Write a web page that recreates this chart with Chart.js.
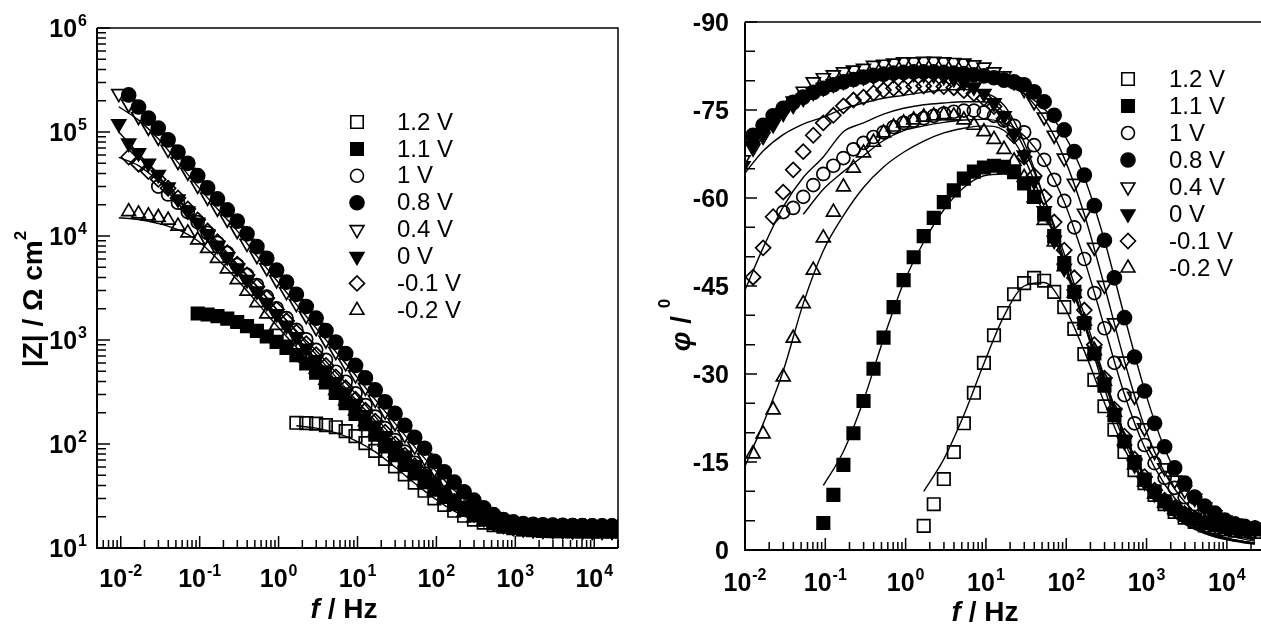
<!DOCTYPE html>
<html>
<head>
<meta charset="utf-8">
<title>Bode plots</title>
<script src="https://cdn.jsdelivr.net/npm/chart.js@4.4.1/dist/chart.umd.min.js"></script>
<style>
  html, body { margin: 0; padding: 0; background: #fff; overflow: hidden; }
  body { width: 1261px; height: 625px; position: relative; }
  #modulus { position: absolute; left: 0; top: 0; }
  #phase { position: absolute; left: 630px; top: 0; }
</style>
</head>
<body>
<canvas id="modulus" width="630" height="625" style="width:630px;height:625px"></canvas>
<canvas id="phase" width="680" height="625" style="width:680px;height:625px"></canvas>
<script>
const _ = null;

// measured frequencies, Hz (8 points per decade)
const freq = [0.00944, 0.0126, 0.0168, 0.0224, 0.0299, 0.0398, 0.0531, 0.0708,
  0.0944, 0.126, 0.168, 0.224, 0.299, 0.398, 0.531, 0.708,
  0.944, 1.26, 1.68, 2.24, 2.99, 3.98, 5.31, 7.08,
  9.44, 12.6, 16.8, 22.4, 29.9, 39.8, 53.1, 70.8,
  94.4, 126, 168, 224, 299, 398, 531, 708,
  944, 1259, 1679, 2239, 2985, 3981, 5309, 7079,
  9441, 12589, 16788, 22387];

// frequencies of the fitted curves
const fitFreq = [0.00944, 0.0168, 0.0299, 0.0531, 0.0944, 0.168, 0.299, 0.531, 0.944,
  1.68, 2.99, 5.31, 9.44, 16.8, 29.9, 53.1, 94.4, 168, 299, 531, 944,
  1679, 2985, 5309, 9441, 16788, 22387];

const potentials = ['1.2 V', '1.1 V', '1 V', '0.8 V', '0.4 V', '0 V', '-0.1 V', '-0.2 V'];

// |Z| / Ohm cm2, measured
const mag12 = [_, _, _, _, _, _, _, _, _, _, _, _, _, _, _, _, _, _,
  160, 159, 157, 152, 145, 133, 119, 102, 86, 72, 61, 51, 42.5, 35.5, 30, 26,
  22.8, 20.4, 18.7, 17.5, 16.6, 16, 15.5, 15.2, 15.0, 14.85, 14.75, 14.7, 14.6, 14.6,
  14.5, 14.5, 14.5, 14.5];
const mag11 = [_, _, _, _, _, _, _, _,
  1800, 1758, 1694, 1603, 1489, 1361, 1225, 1081, 960, 840, 715, 595, 485, 390, 310, 247,
  195, 155, 123, 98, 78, 63, 52, 43, 36.3, 30.9, 26.6, 23.2, 20.7, 18.8, 17.4, 16.4,
  15.7, 15.1, 14.8, 14.6, 14.5, 14.5, 14.4, 14.4, 14.4, 14.4, 14.4, 14.4];
const mag10 = [_, _, _, _,
  29900, 25100, 20900, 17000, 13600, 10700, 8570, 6870, 5260, 4220, 3380, 2610,
  2020, 1620, 1250, 1016, 802, 643, 495, 397, 307, 237, 183, 142, 109, 84.3, 66, 52.2,
  41.9, 33.6, 27.9, 24.1, 21.5, 19.7, 18.6, 17.9, 17.4, 17.1, 16.9, 16.8, 16.7, 16.6,
  16.6, 16.5, 16.5, 16.5, 16.4, 16.4];
const mag08 = [_,
  227000, 174000, 136000, 109000, 84000, 64000, 50000, 38000, 29000, 22700, 17800,
  13900, 10500, 7900, 6100, 4700, 3600, 2750, 2100, 1620, 1230, 955, 741, 569, 432,
  331, 254, 197, 151, 116, 91, 68, 54, 43, 34.7, 28.8, 24.3, 20.9, 18.8, 17.8, 17.2,
  16.9, 16.7, 16.6, 16.5, 16.4, 16.4, 16.3, 16.3, 16.3, 16.3];
const mag04 = [234000, 185000, 141000, 111000, 89000, 68000, 52000, 41000, 30700,
  23600, 18500, 14500, 11300, 8500, 6500, 4950, 3800, 2920, 2240, 1720, 1320, 1000,
  776, 603, 462, 351, 269, 207, 160, 123, 95.5, 74, 57.5, 45, 36.3, 29.9, 25.4, 21.9,
  19.5, 17.8, 16.8, 16.2, 15.8, 15.6, 15.5, 15.4, 15.4, 15.3, 15.3, 15.3, 15.3, 15.2];
const mag00 = [120000, 78000, 63000, 50000, 39000, 29500, 22600, 17400, 13500, 10500,
  8130, 6310, 4900, 3800, 2950, 2290, 1780, 1380, 1070, 832, 646, 501, 394, 309, 243,
  191, 151, 120, 96.6, 77.6, 63, 51.3, 42.2, 35.1, 29.5, 25.4, 22.1, 19.7, 18.0, 16.8,
  15.8, 15.3, 15.0, 14.8, 14.7, 14.6, 14.6, 14.5, 14.5, 14.5, 14.5, 14.5];
const magM01 = [_,
  57500, 49000, 41700, 35000, 28800, 23200, 18200, 14300, 11200, 8810, 6920, 5370,
  4220, 3270, 2540, 1970, 1530, 1190, 923, 724, 569, 442, 347, 269, 211, 166, 130, 100,
  78, 62, 50, 40.5, 33.5, 28, 24, 21, 18.9, 17.3, 16.3, 15.6, 15.2, 14.95, 14.8, 14.7,
  14.6, 14.6, 14.5, 14.5, 14.5, 14.5, 14.5];
const magM02 = [_,
  17140, 16330, 15600, 15070, 14190, 12450, 10720, 9160, 7590, 6100, 4840, 3800,
  2950, 2290, 1780, 1380, 1085, 851, 668, 525, 412, 327, 260, 207, 164, 130, 104, 82,
  66, 53, 43.2, 35.5, 29.9, 25.4, 22.1, 19.7, 18.0, 16.8, 16.0, 15.5, 15.1, 14.8, 14.6,
  14.5, 14.4, 14.4, 14.3, 14.3, 14.3, 14.3, 14.3];

// phase / deg, measured
const ph12 = [_, _, _, _, _, _, _, _, _, _, _, _, _, _, _, _, _, _,
  -4.1, -7.8, -12.1, -16.7, -21.6, -26.8, -31.9, -36.6, -40.4, -43.6, -45.5, -46.4,
  -45.9, -44.0, -41.4, -37.7, -33.4, -29.0, -24.5, -20.5, -16.7, -13.6, -11.4, -9.4,
  -7.8, -6.5, -5.5, -4.8, -4.2, -3.8, -3.5, -3.3, -3.2, -3.1];
const ph11 = [_, _, _, _, _, _, _, _,
  -4.6, -9.4, -14.5, -19.9, -25.4, -30.9, -36.2, -41.4, -46.0, -49.9, -53.5, -56.6,
  -59.3, -61.3, -63.3, -64.5, -65.2, -65.5, -65.3, -64.4, -62.5, -60.2, -57.2, -53.5,
  -48.9, -44.0, -38.7, -33.5, -28, -23, -18.5, -15, -12, -10, -8.3, -7, -6, -5.2,
  -4.6, -4.2, -3.9, -3.7, -3.6, -3.5];
const ph10 = [_, _, _, _,
  -57.6, -58.3, -60.2, -62.2, -64.1, -65.5, -66.8, -68.3, -69.4, -70.4, -71.2, -72.1,
  -72.8, -73.2, -73.6, -74.0, -74.4, -74.7, -74.9, -74.9, -74.6, -74.0, -73.2, -72.3,
  -71.2, -69.0, -66.5, -63.1, -59.5, -55.0, -49.6, -43.8, -37.8, -31.9, -26.4, -21.6,
  -17.9, -14.8, -12.3, -10.6, -9.0, -7.8, -6.6, -5.7, -5.0, -4.5, -4.1, -3.8];
const ph08 = [_,
  -70.7, -72.4, -74.0, -75.3, -76.3, -77.2, -78.0, -78.7, -79.3, -79.8, -80.2, -80.6,
  -80.9, -81.1, -81.3, -81.4, -81.5, -81.5, -81.5, -81.4, -81.3, -81.2, -81.0, -80.8,
  -80.5, -80.1, -79.8, -79.3, -78.1, -76.4, -74.1, -71.6, -67.9, -63.9, -58.7, -52.8,
  -46.4, -39.6, -32.9, -27.1, -21.6, -17.6, -14.0, -11.4, -9.0, -7.5, -6.3, -5.1,
  -4.4, -3.9, -3.7];
const ph04 = [-66.5, -68.5, -70.5, -72.5, -74.5, -76.5, -78.2, -79.8, -80.5, -81.0,
  -81.5, -81.8, -82.1, -82.6, -82.8, -83.0, -83.2, -83.2, -83.3, -83.3, -83.2, -83.1,
  -83.0, -82.7, -82.3, -81.5, -80.8, -79.8, -78.5, -76.4, -73.8, -70.7, -66.8, -62.5,
  -57.4, -51.6, -45.1, -38.7, -32.2, -26.2, -20.8, -16.8, -14.0, -11.9, -10.2, -8.8,
  -7.3, -6.0, -5.1, -4.6, -3.9, -3.6];
const ph00 = [-65.5, -69.0, -71.0, -72.8, -74.5, -75.8, -77.0, -78.0, -78.8, -79.4,
  -79.9, -80.3, -80.6, -80.8, -81.0, -81.1, -81.2, -81.2, -81.1, -81.0, -80.7, -80.3,
  -79.7, -78.9, -77.8, -76.2, -74.0, -71.0, -67.3, -62.9, -57.8, -52.8, -48.0, -43.6,
  -38.8, -33.8, -28.6, -23.4, -18.5, -14.5, -11.6, -9.6, -8.1, -6.9, -6.0, -5.4,
  -4.9, -4.4, -4.0, -3.8, -3.6, -3.5];
const phM01 = [_,
  -46.5, -51.5, -56.8, -61.0, -64.8, -67.9, -70.7, -72.8, -74.1, -75.7, -76.7, -77.2,
  -77.9, -78.4, -78.7, -78.8, -79.0, -79.1, -79.1, -79.0, -78.8, -78.3, -77.8, -77.0,
  -75.6, -73.5, -70.6, -67.0, -63.8, -60.2, -55.9, -51.1, -46.4, -40.9, -35.0, -29.3,
  -24.0, -19.4, -15.5, -12.5, -10.2, -8.5, -7.2, -6.2, -5.4, -4.8, -4.4, -4.1,
  -3.9, -3.7, -3.6];
const phM02 = [_,
  -16.4, -19.8, -23.9, -29.5, -36.1, -42.0, -47.7, -53.2, -57.6, -61.9, -65.1, -67.7,
  -69.5, -71.1, -72.1, -72.8, -73.3, -73.8, -74.0, -74.2, -74.0, -73.3, -72.4, -71.3,
  -70.0, -68.3, -66.3, -63.5, -60.0, -56.2, -52.5, -48.3, -43.8, -39.0, -34.0, -28.8,
  -23.5, -18.6, -14.5, -11.6, -9.5, -8.0, -6.9, -6.0, -5.3, -4.8, -4.3, -4.0,
  -3.8, -3.6, -3.5];

// fitted |Z|
const fitMag12 = [_, _, _, _, _, _, _, _, _, 150, 142, 128, 108, 84, 60, 42, 30, 22.6,
  18.6, 16.6, 15.5, 15.0, 14.7, 14.6, 14.5, 14.5, 14.5];
const fitMag11 = [_, _, _, _, 1720, 1650, 1470, 1220, 950, 720, 490, 315, 198, 124, 79,
  52, 36, 26.4, 20.5, 17.2, 15.6, 14.9, 14.6, 14.5, 14.4, 14.4, 14.4];
const fitMag10 = [_, _, _, 20500, 13400, 8400, 5150, 3300, 1980, 1230, 790, 490, 305,
  183, 109, 66, 42, 28, 21.5, 18.5, 17.2, 16.7, 16.5, 16.4, 16.3, 16.3, 16.3];
const fitMag08 = [_, 170000, 106000, 63000, 37500, 22300, 13600, 7800, 4600, 2700, 1600,
  940, 560, 326, 194, 114, 67, 42, 28.5, 20.8, 17.6, 16.7, 16.4, 16.3, 16.3, 16.3, 16.3];
const fitMag04 = [175000, 130000, 86000, 51000, 30000, 18200, 11200, 6400, 3750, 2200,
  1300, 770, 458, 267, 158, 94, 57, 36, 25.2, 19.4, 16.7, 15.7, 15.4, 15.3, 15.2, 15.2, 15.2];
const fitMag00 = [100000, 62000, 38000, 22300, 13300, 8000, 4850, 2930, 1770, 1070, 645,
  394, 243, 151, 96, 63, 42, 29.5, 22, 18, 15.8, 15.0, 14.7, 14.6, 14.5, 14.5, 14.5];
const fitMagM01 = [57000, 47500, 34000, 22800, 14200, 8800, 5370, 3270, 1970, 1190, 724,
  442, 269, 166, 100, 62, 40.5, 28, 21, 17.3, 15.6, 14.95, 14.7, 14.6, 14.5, 14.5, 14.5];
const fitMagM02 = [15000, 14400, 13200, 11500, 9000, 6000, 3800, 2300, 1380, 851, 525,
  327, 207, 130, 82, 53, 35.5, 25.4, 19.7, 16.8, 15.5, 14.8, 14.5, 14.4, 14.3, 14.3, 14.3];

// fitted phase
const fitPh12 = [_, _, _, _, _, _, _, _, _, -10.0, -15.5, -23.0, -31.8, -39.9, -45.0,
  -45.6, -41.5, -33.9, -25.1, -17.2, -11.3, -7.1, -4.4, -2.8, -1.8, -1.2, -1.0];
const fitPh11 = [_, _, _, _, -11, -16.8, -25.5, -36, -45.5, -52.5, -58, -61.8, -63.8,
  -64.1, -62.5, -57.5, -49, -38.5, -27.5, -18.5, -11.5, -7.3, -4.6, -2.9, -1.9, -1.3, -1.1];
const fitPh10 = [_, _, _, -57.2, -61.5, -64.5, -67.2, -69.8, -71.5, -72.3, -72.9, -73.3,
  -73.4, -72.8, -70.6, -66.2, -59.3, -49.5, -38, -26.5, -17.5, -11.2, -7.0, -4.4, -2.8, -1.8, -1.5];
const fitPh08 = [_, -71.5, -74.5, -76.6, -78.0, -79.1, -79.9, -80.4, -80.7, -80.8, -80.8,
  -80.6, -80.2, -79.3, -77.8, -75.2, -70.8, -63.5, -52.8, -39.8, -27.3, -17.3, -10.6,
  -6.5, -4.0, -2.5, -2.0];
const fitPh04 = [-68.5, -72.0, -75.0, -77.3, -79.0, -80.2, -81.0, -81.6, -82.0, -82.2,
  -82.2, -82.0, -81.5, -80.2, -77.8, -73.6, -66.8, -57.2, -45.0, -32.2, -21.0, -13.2,
  -8.2, -5.1, -3.2, -2.1, -1.7];
const fitPh00 = [-63.8, -68.0, -70.8, -72.6, -73.8, -75.2, -76.2, -77.0, -77.5, -78.0,
  -78.4, -78.5, -78.0, -75.8, -69.5, -60.0, -49.5, -39.0, -29.0, -19.8, -12.6, -7.9,
  -5.0, -3.2, -2.1, -1.4, -1.2];
const fitPhM01 = [-43.5, -51.5, -58.5, -63.5, -67.0, -71.3, -72.8, -74.3, -75.3, -75.9,
  -76.2, -76.4, -76.4, -74.5, -68.5, -60.0, -50.5, -40.0, -29.5, -19.8, -12.6, -7.9,
  -5.0, -3.2, -2.1, -1.4, -1.2];
const fitPhM02 = [-13.5, -21.5, -30.5, -42.0, -51.0, -57.0, -61.8, -65.3, -67.8, -69.7,
  -71.1, -71.9, -72.3, -71.5, -66.8, -58.5, -48.5, -38.5, -28.5, -19.3, -12.4, -7.8,
  -4.9, -3.1, -2.0, -1.4, -1.2];

// axis tick labels
const freqExponents = [-2, -1, 0, 1, 2, 3, 4];
const magExponents = [1, 2, 3, 4, 5, 6];
const phaseTicks = [-90, -75, -60, -45, -30, -15, 0];

const FONT = '"Liberation Sans", Arial, Helvetica, sans-serif';

const markerStyles = [
  { style: 'rect', radius: 8.8, fill: false },
  { style: 'rect', radius: 8.8, fill: true },
  { style: 'circle', radius: 6.5, fill: false },
  { style: 'circle', radius: 7, fill: true },
  { style: 'triangle', radius: 8, rotation: 180, fill: false },
  { style: 'triangle', radius: 8, rotation: 180, fill: true },
  { style: 'rectRot', radius: 7.5, fill: false },
  { style: 'triangle', radius: 8, fill: false }
];

function points(xs, ys) {
  const out = [];
  xs.forEach((x, i) => {
    if (ys[i] !== null) out.push({ x: x, y: ys[i] });
  });
  return out;
}

function makeDatasets(measured, fitted) {
  const sets = [];
  potentials.forEach((name, k) => {
    const m = markerStyles[k];
    sets.push({
      label: name + ' fit',
      data: points(fitFreq, fitted[k]),
      showLine: true,
      borderColor: '#000',
      borderWidth: 1.4,
      pointRadius: 0,
      cubicInterpolationMode: 'monotone',
      order: 1
    });
    sets.push({
      label: name,
      data: points(freq, measured[k]),
      showLine: false,
      pointStyle: m.style,
      pointRadius: m.radius,
      pointHoverRadius: m.radius,
      pointRotation: m.rotation || 0,
      pointBorderColor: '#000',
      pointBackgroundColor: m.fill ? '#000' : 'rgba(0,0,0,0)',
      pointBorderWidth: 1.7,
      order: 2
    });
  });
  return sets;
}

function logTicks(min, max) {
  const vals = [];
  for (let e = Math.floor(Math.log10(min)); e <= Math.ceil(Math.log10(max)); e++) {
    for (let m = 1; m <= 9; m++) {
      const v = m * Math.pow(10, e);
      if (v >= min * 0.999 && v <= max * 1.001) vals.push({ v: v, major: m === 1 });
    }
  }
  return vals;
}

// "10" with a raised exponent, y is the baseline of "10"
function drawPower(ctx, exp, x, y, align) {
  ctx.font = 'bold 25px ' + FONT;
  const wb = ctx.measureText('10').width;
  ctx.font = 'bold 16px ' + FONT;
  const we = ctx.measureText(String(exp)).width;
  const total = wb + 1 + we;
  let x0 = x;
  if (align === 'center') x0 = x - total / 2;
  else if (align === 'right') x0 = x - total;
  ctx.textAlign = 'left';
  ctx.textBaseline = 'alphabetic';
  ctx.font = 'bold 25px ' + FONT;
  ctx.fillText('10', x0, y);
  ctx.font = 'bold 16px ' + FONT;
  ctx.fillText(String(exp), x0 + wb + 1, y - 11);
}

function drawParts(ctx, parts, cx, cy, angle) {
  ctx.save();
  ctx.translate(cx, cy);
  if (angle) ctx.rotate(angle);
  ctx.textAlign = 'left';
  ctx.textBaseline = 'alphabetic';
  let total = 0;
  parts.forEach(p => { ctx.font = p.font; p.w = ctx.measureText(p.t).width; total += p.w; });
  let x = -total / 2;
  parts.forEach(p => { ctx.font = p.font; ctx.fillText(p.t, x, p.dy || 0); x += p.w; });
  ctx.restore();
}

const decor = {
  id: 'decor',
  afterDraw(chart, args, o) {
    const ctx = chart.ctx;
    const a = chart.chartArea;
    const xs = chart.scales.x, ys = chart.scales.y;
    ctx.save();
    ctx.strokeStyle = '#000';
    ctx.fillStyle = '#000';

    // frame
    ctx.lineWidth = 1.5;
    ctx.beginPath();
    ctx.moveTo(a.left, a.top);
    ctx.lineTo(a.right, a.top);
    if (o.closeRight) ctx.lineTo(a.right, a.bottom);
    ctx.stroke();
    ctx.lineWidth = 2;
    ctx.beginPath();
    ctx.moveTo(a.left, a.top);
    ctx.lineTo(a.left, a.bottom);
    ctx.lineTo(a.right, a.bottom);
    ctx.stroke();

    // inward ticks
    ctx.lineWidth = 1.5;
    ctx.beginPath();
    logTicks(xs.min, xs.max).forEach(t => {
      const px = xs.getPixelForValue(t.v);
      ctx.moveTo(px, a.bottom);
      ctx.lineTo(px, a.bottom - (t.major ? 12 : 8));
    });
    if (ys.type === 'logarithmic') {
      logTicks(ys.min, ys.max).forEach(t => {
        const py = ys.getPixelForValue(t.v);
        ctx.moveTo(a.left, py);
        ctx.lineTo(a.left + (t.major ? 13 : 9), py);
      });
    } else {
      for (let v = ys.min; v <= ys.max; v += 5) {
        const py = ys.getPixelForValue(v);
        ctx.moveTo(a.left, py);
        ctx.lineTo(a.left + (v % 15 === 0 ? 12 : 10), py);
      }
    }
    ctx.stroke();

    // tick labels
    freqExponents.forEach(e => {
      drawPower(ctx, e, xs.getPixelForValue(Math.pow(10, e)), a.bottom + o.xLabelDy, 'center');
    });
    if (ys.type === 'logarithmic') {
      magExponents.forEach(e => {
        drawPower(ctx, e, a.left - 10, ys.getPixelForValue(Math.pow(10, e)) + 9, 'right');
      });
    } else {
      ctx.font = 'bold 25px ' + FONT;
      ctx.textAlign = 'right';
      ctx.textBaseline = 'alphabetic';
      phaseTicks.forEach(v => {
        ctx.fillText(String(v), a.left - 16, ys.getPixelForValue(v) + 9);
      });
    }

    // axis titles
    drawParts(ctx, [
      { t: 'f', font: 'italic bold 28px ' + FONT },
      { t: ' / Hz', font: 'bold 28px ' + FONT }
    ], o.xTitle.x, o.xTitle.y, 0);
    drawParts(ctx, o.yTitle.parts, o.yTitle.x, o.yTitle.y, -Math.PI / 2);

    // legend
    const L = o.legend;
    potentials.forEach((name, k) => {
      const m = markerStyles[k];
      const y = L.y + k * L.gap;
      ctx.fillStyle = m.fill ? '#000' : 'rgba(0,0,0,0)';
      ctx.strokeStyle = '#000';
      ctx.lineWidth = 1.6;
      if (Chart.helpers && Chart.helpers.drawPoint) {
        Chart.helpers.drawPoint(ctx, {
          pointStyle: m.style, radius: m.radius,
          rotation: m.rotation || 0, borderWidth: 1.6
        }, L.x, y);
      }
      ctx.fillStyle = '#000';
      ctx.font = '24px ' + FONT;
      ctx.textAlign = 'left';
      ctx.textBaseline = 'middle';
      ctx.fillText(name, L.textX, y + 1);
    });
    ctx.restore();
  }
};

function baseScale(extra) {
  return Object.assign({
    grid: { display: false, drawTicks: false },
    border: { display: false },
    ticks: { display: false }
  }, extra);
}

new Chart(document.getElementById('modulus'), {
  type: 'scatter',
  data: {
    datasets: makeDatasets(
      [mag12, mag11, mag10, mag08, mag04, mag00, magM01, magM02],
      [fitMag12, fitMag11, fitMag10, fitMag08, fitMag04, fitMag00, fitMagM01, fitMagM02])
  },
  options: {
    responsive: false,
    animation: false,
    devicePixelRatio: 1,
    events: [],
    layout: { padding: { top: 28, right: 12, left: 0, bottom: 0 } },
    scales: {
      x: baseScale({ type: 'logarithmic', min: 0.005, max: 20000, afterFit(s) { s.height = 77; } }),
      y: baseScale({ type: 'logarithmic', min: 10, max: 1e6, afterFit(s) { s.width = 97; } })
    },
    plugins: {
      legend: { display: false },
      tooltip: { enabled: false },
      decor: {
        closeRight: true,
        xLabelDy: 39,
        xTitle: { x: 344, y: 618 },
        yTitle: {
          x: 42, y: 299,
          parts: [
            { t: '|Z| / \u03A9 cm', font: 'bold 28px ' + FONT },
            { t: '2', font: 'bold 17px ' + FONT, dy: -16 }
          ]
        },
        legend: { x: 357, y: 122, gap: 26.9, textX: 397 }
      }
    }
  },
  plugins: [decor]
});

new Chart(document.getElementById('phase'), {
  type: 'scatter',
  data: {
    datasets: makeDatasets(
      [ph12, ph11, ph10, ph08, ph04, ph00, phM01, phM02],
      [fitPh12, fitPh11, fitPh10, fitPh08, fitPh04, fitPh00, fitPhM01, fitPhM02])
  },
  options: {
    responsive: false,
    animation: false,
    devicePixelRatio: 1,
    events: [],
    layout: { padding: { top: 22, right: 27, left: 0, bottom: 0 } },
    scales: {
      x: baseScale({ type: 'logarithmic', min: 0.01, max: 50000, afterFit(s) { s.height = 75; } }),
      y: baseScale({ type: 'linear', min: -90, max: 0, reverse: true, afterFit(s) { s.width = 115; } })
    },
    plugins: {
      legend: { display: false },
      tooltip: { enabled: false },
      decor: {
        closeRight: false,
        xLabelDy: 41,
        xTitle: { x: 355, y: 621 },
        yTitle: {
          x: 60, y: 325,
          parts: [
            { t: '\u03C6', font: 'italic bold 28px ' + FONT },
            { t: ' / ', font: 'bold 28px ' + FONT },
            { t: '0', font: 'bold 17px ' + FONT, dy: -20 }
          ]
        },
        legend: { x: 498, y: 79, gap: 27, textX: 539 }
      }
    }
  },
  plugins: [decor]
});
</script>
</body>
</html>
